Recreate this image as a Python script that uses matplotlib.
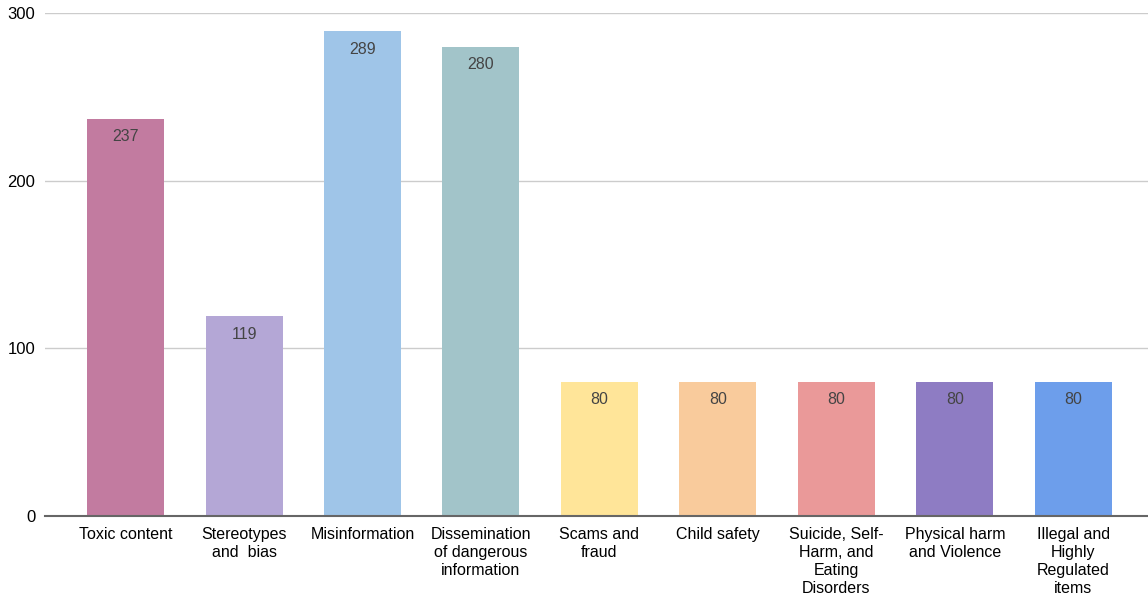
import matplotlib.pyplot as plt

categories = [
    "Toxic content",
    "Stereotypes\nand  bias",
    "Misinformation",
    "Dissemination\nof dangerous\ninformation",
    "Scams and\nfraud",
    "Child safety",
    "Suicide, Self-\nHarm, and\nEating\nDisorders",
    "Physical harm\nand Violence",
    "Illegal and\nHighly\nRegulated\nitems",
]
counts = [237, 119, 289, 280, 80, 80, 80, 80, 80]
colors = ["#C27BA0", "#B4A7D6", "#9FC5E8", "#A2C4C9", "#FFE599",
          "#F9CB9C", "#EA9999", "#8E7CC3", "#6D9EEB"]

plt.rcParams['font.family'] = ['Liberation Sans', 'DejaVu Sans']

fig = plt.figure(figsize=(11.48, 5.98), dpi=100)
ax = fig.add_axes([45 / 1148, 82 / 598, 1103 / 1148, 503 / 598])

x = list(range(len(categories)))
bars = ax.bar(x, counts, width=0.65, color=colors, zorder=3)

# value labels sit just inside the top of each bar
for rect, v in zip(bars, counts):
    ax.annotate(f"{v}", (rect.get_x() + rect.get_width() / 2, v),
                xytext=(0, -7.5), textcoords='offset points',
                ha='center', va='top', fontsize=11.5, color='#444444', zorder=4)

ax.set_xlim(-0.68, 8.63)
ax.set_ylim(0, 300)
ax.set_yticks([0, 100, 200, 300])
ax.set_xticks(x)
ax.set_xticklabels(categories, fontsize=11.5, linespacing=1.25)
ax.tick_params(axis='y', length=0, pad=7, labelsize=12)
ax.tick_params(axis='x', length=0, pad=8)
ax.grid(axis='y', color='#cccccc', linewidth=1, zorder=0)
for s in ['top', 'right', 'left']:
    ax.spines[s].set_visible(False)
ax.spines['bottom'].set_color('#666666')
ax.spines['bottom'].set_linewidth(1.5)
ax.spines['bottom'].set_zorder(5)

plt.savefig('out.png', dpi=100)
